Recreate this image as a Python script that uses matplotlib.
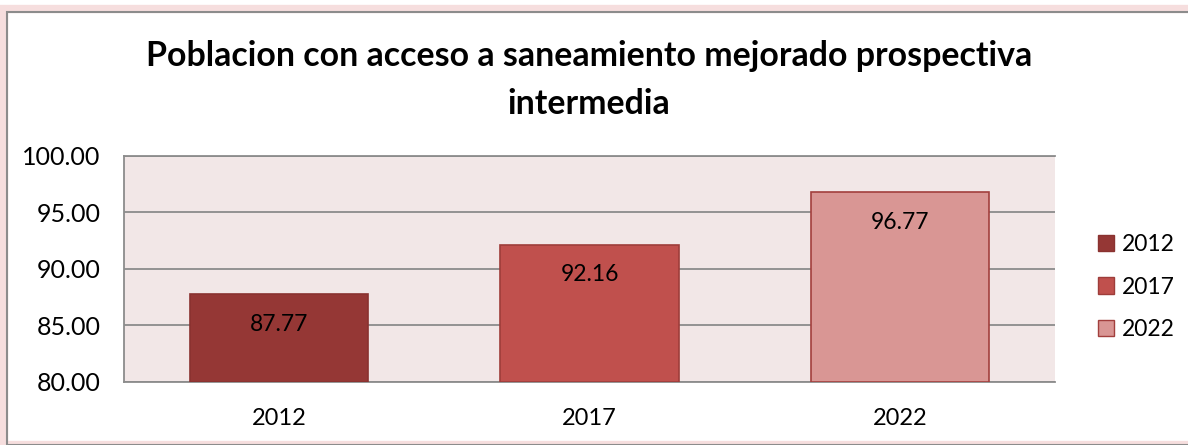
import matplotlib
matplotlib.use("Agg")
import matplotlib.pyplot as plt
from matplotlib.patches import Rectangle, Patch

categories = ["2012", "2017", "2022"]
values = [87.77, 92.16, 96.77]
series_labels = ["2012", "2017", "2022"]
title = "Poblacion con acceso a saneamiento mejorado prospectiva\nintermedia"
yticks = [80, 85, 90, 95, 100]

fills = ["#953735", "#C0504D", "#D99694"]
edges = ["#8A3230", "#9E3D3A", "#A23F3D"]

plt.rcParams['font.family'] = ['Lato', 'DejaVu Sans']

W, H = 1188, 445
fig = plt.figure(figsize=(W / 100, H / 100), dpi=100)

# outer chart frame with soft pink shadow
for off, col, lw in [(3, "#F6DEDE", 6), (0, "#8C8C8C", 1.5)]:
    fig.patches.append(Rectangle(((7 - off) / W, 0), 1.2, (H - 12 + off) / H,
                                 transform=fig.transFigure, fill=False,
                                 edgecolor=col, linewidth=lw, zorder=0))

ax = fig.add_axes([124 / W, 1 - 382 / H, (1055 - 124) / W, (382 - 156) / H])
ax.set_facecolor("#F2E7E7")

x = list(range(len(categories)))
for i, (v, f, e, lab) in enumerate(zip(values, fills, edges, series_labels)):
    ax.bar(i, v - 80, bottom=80, width=0.575, color=f, edgecolor=e,
           linewidth=1.2, zorder=3, label=lab)
    ax.annotate(f"{v:.2f}", (i, v), xytext=(0, -21.5), textcoords="offset points",
                ha="center", va="center", fontsize=16.5, color="black", zorder=4)

ax.set_xlim(-0.5, 2.5)
ax.set_ylim(80, 100)
ax.set_yticks(yticks)
ax.set_yticklabels([f"{t:.2f}" for t in yticks], fontsize=18)
ax.set_xticks(x)
ax.set_xticklabels(categories, fontsize=17)
ax.tick_params(axis="y", length=0, pad=17)
ax.tick_params(axis="x", length=0, pad=19)
ax.yaxis.grid(True, color="#8C8C8C", linewidth=1.3, zorder=1)
ax.set_axisbelow(True)
for s in ["left", "bottom", "top"]:
    ax.spines[s].set_color("#8C8C8C")
    ax.spines[s].set_linewidth(1.3)
ax.spines["right"].set_visible(False)

fig.text(0.5 * (148 + 1030) / W, 1 - 80 / H, title, ha="center", va="center",
         fontsize=24.4, fontweight="bold", linespacing=1.6)

handles = [Patch(facecolor=f, edgecolor=e, label=l) for f, e, l in zip(fills, edges, series_labels)]
fig.legend(handles=handles, loc="center left", bbox_to_anchor=(1077 / W, 1 - 287 / H),
           frameon=False, fontsize=16.5, handlelength=0.7, handleheight=0.7,
           handletextpad=0.35, labelspacing=0.95)

fig.savefig("out.png", dpi=100)
